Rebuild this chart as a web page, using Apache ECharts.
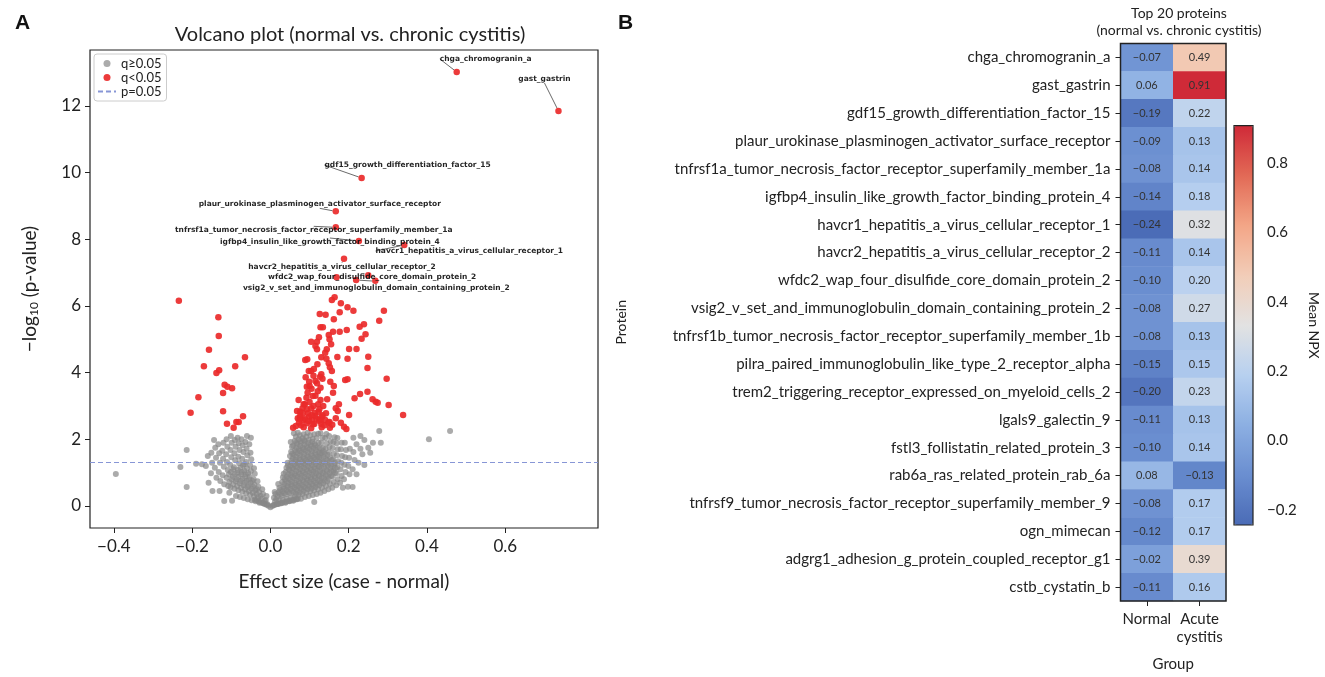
<!DOCTYPE html>
<html>
<head>
<meta charset="utf-8">
<script src="https://cdn.jsdelivr.net/npm/echarts@6/dist/echarts.min.js"></script>
<style>
  html, body { margin: 0; padding: 0; background: #fff; }
  #chart { width: 1325px; height: 677px; }
</style>
</head>
<body>
<div id="chart"></div>
<script>
// ---- panel A: volcano data (effect size, -log10 p) ----
const grayPts = [
  [0,-0.04],[0.005,0.0],[0.01,0.03],[-0.005,0.01],[-0.01,0.04],[0.015,0.05],[0.02,0.06],[-0.015,0.06],[0.025,0.08],[-0.02,0.09],
  [0.03,0.1],[0.035,0.12],[-0.025,0.11],[0.04,0.13],[0.045,0.15],[-0.03,0.14],[0.05,0.16],[0.055,0.18],[0.06,0.19],[-0.035,0.17],
  [0.065,0.2],[-0.04,0.19],[0.07,0.22],
  [0.008,0.03],[0.012,0.14],[0.009,0.25],[0.013,0.36],[0.011,0.42],
  [0.018,0.06],[0.022,0.17],[0.019,0.29],[0.021,0.41],[0.023,0.55],[0.02,0.66],
  [0.028,0.08],[0.032,0.19],[0.029,0.31],[0.031,0.44],[0.033,0.58],[0.03,0.72],[0.032,0.86],[0.034,0.97],
  [0.038,0.1],[0.042,0.22],[0.039,0.35],[0.041,0.48],[0.043,0.6],[0.04,0.74],[0.042,0.88],[0.039,1.02],[0.041,1.15],[0.044,1.3],
  [0.048,0.14],[0.052,0.26],[0.049,0.39],[0.051,0.52],[0.053,0.65],[0.05,0.79],[0.052,0.93],[0.049,1.07],[0.051,1.21],[0.054,1.36],[0.05,1.5],[0.053,1.63],[0.055,1.78],[0.052,1.92],
  [0.058,0.16],[0.062,0.29],[0.059,0.42],[0.061,0.55],[0.063,0.69],[0.06,0.83],[0.062,0.97],[0.059,1.11],[0.061,1.25],[0.064,1.39],[0.06,1.53],[0.063,1.67],[0.058,1.81],[0.062,1.95],[0.065,2.08],[0.06,2.18],
  [0.068,0.2],[0.072,0.33],[0.069,0.46],[0.071,0.6],[0.073,0.74],[0.07,0.88],[0.072,1.02],[0.069,1.16],[0.071,1.3],[0.074,1.44],[0.07,1.58],[0.073,1.72],[0.068,1.86],[0.072,2.0],[0.075,2.12],[0.07,2.2],
  [0.078,0.22],[0.082,0.36],[0.079,0.5],[0.081,0.63],[0.083,0.77],[0.08,0.91],[0.082,1.05],[0.079,1.19],[0.081,1.33],[0.084,1.47],[0.08,1.61],[0.083,1.75],[0.078,1.89],[0.082,2.03],[0.085,2.15],
  [0.088,0.27],[0.092,0.4],[0.089,0.54],[0.091,0.68],[0.093,0.82],[0.09,0.96],[0.092,1.1],[0.089,1.24],[0.091,1.38],[0.094,1.52],[0.09,1.66],[0.093,1.8],[0.088,1.94],[0.092,2.08],[0.095,2.2],
  [0.098,0.3],[0.102,0.44],[0.099,0.58],[0.101,0.72],[0.103,0.86],[0.1,1.0],[0.102,1.14],[0.099,1.28],[0.101,1.42],[0.104,1.56],[0.1,1.7],[0.103,1.84],[0.098,1.98],[0.102,2.12],
  [0.108,0.33],[0.112,0.47],[0.109,0.61],[0.111,0.75],[0.113,0.89],[0.11,1.03],[0.112,1.17],[0.109,1.31],[0.111,1.45],[0.114,1.59],[0.11,1.73],[0.113,1.87],[0.108,2.01],[0.112,2.15],
  [0.118,0.36],[0.122,0.5],[0.119,0.64],[0.121,0.78],[0.123,0.92],[0.12,1.06],[0.122,1.2],[0.119,1.34],[0.121,1.48],[0.124,1.62],[0.12,1.76],[0.123,1.9],[0.118,2.04],[0.122,2.17],
  [0.128,0.4],[0.132,0.55],[0.129,0.7],[0.131,0.85],[0.133,1.0],[0.13,1.15],[0.132,1.3],[0.129,1.45],[0.131,1.6],[0.134,1.75],[0.13,1.9],[0.133,2.05],[0.128,2.18],
  [0.138,0.45],[0.142,0.6],[0.139,0.76],[0.141,0.92],[0.143,1.08],[0.14,1.24],[0.142,1.4],[0.139,1.56],[0.141,1.72],[0.144,1.88],[0.14,2.04],[0.143,2.16],
  [0.148,0.5],[0.152,0.66],[0.149,0.82],[0.151,0.98],[0.153,1.14],[0.15,1.3],[0.152,1.46],[0.149,1.62],[0.151,1.78],[0.154,1.94],[0.15,2.1],
  [0.158,0.55],[0.162,0.72],[0.159,0.89],[0.161,1.06],[0.163,1.23],[0.16,1.4],[0.162,1.57],[0.159,1.74],[0.161,1.91],[0.164,2.06],
  [0.168,0.62],[0.172,0.8],[0.169,0.98],[0.171,1.16],[0.173,1.34],[0.17,1.52],[0.172,1.7],[0.169,1.88],[0.171,2.04],
  [0.178,0.7],[0.182,0.9],[0.179,1.1],[0.181,1.3],[0.183,1.5],[0.18,1.7],[0.182,1.9],
  [0.188,0.8],[0.192,1.02],[0.189,1.24],[0.191,1.46],[0.193,1.68],[0.19,1.9],
  [0.198,0.58],[0.202,0.95],[0.199,1.2],[0.201,1.45],[0.203,1.72],
  [0.21,1.1],[0.215,1.38],[0.212,1.62],[0.22,1.85],[0.225,1.3],[0.23,1.72],[0.235,1.55],[0.24,1.98],[0.25,1.75],[0.255,1.6],
  [0.262,1.9],[0.278,2.25],[0.282,1.9],[0.23,2.1],[0.212,2.05],[0.24,1.23],[0.22,0.95],[0.185,0.55],[0.21,0.57],[0.112,0.12],
  [0.405,2.0],[0.459,2.25],
  [0.015,0.2],[0.025,0.35],[0.025,0.48],[0.035,0.38],[0.035,0.52],[0.035,0.66],[0.037,0.8],[0.045,0.42],[0.045,0.56],[0.046,0.7],
  [0.045,0.83],[0.046,0.96],[0.047,1.1],[0.045,1.22],[0.055,0.45],[0.056,0.6],[0.055,0.73],[0.057,0.87],[0.055,1.0],[0.056,1.14],
  [0.055,1.29],[0.057,1.43],[0.056,1.57],[0.065,0.36],[0.066,0.5],[0.065,0.63],[0.067,0.77],[0.065,0.91],[0.066,1.05],[0.065,1.19],
  [0.067,1.33],[0.066,1.47],[0.065,1.61],[0.067,1.75],[0.066,1.9],[0.075,0.4],[0.076,0.55],[0.075,0.68],[0.077,0.83],[0.075,0.97],
  [0.076,1.11],[0.075,1.25],[0.077,1.38],[0.076,1.52],[0.075,1.66],[0.077,1.8],[0.076,1.95],[0.085,0.45],[0.086,0.58],[0.085,0.72],
  [0.087,0.87],[0.085,1.0],[0.086,1.15],[0.085,1.28],[0.087,1.42],[0.086,1.57],[0.085,1.7],[0.087,1.85],[0.086,1.98],[0.095,0.5],
  [0.096,0.63],[0.095,0.77],[0.097,0.9],[0.095,1.05],[0.096,1.19],[0.095,1.33],[0.097,1.47],[0.096,1.61],[0.095,1.75],[0.097,1.9],
  [0.105,0.52],[0.106,0.66],[0.105,0.8],[0.107,0.95],[0.105,1.08],[0.106,1.23],[0.105,1.37],[0.107,1.5],[0.106,1.65],[0.105,1.8],
  [0.107,1.93],[0.115,0.56],[0.116,0.7],[0.115,0.84],[0.117,0.98],[0.115,1.12],[0.116,1.26],[0.115,1.4],[0.117,1.54],[0.116,1.68],
  [0.115,1.82],[0.125,0.62],[0.126,0.76],[0.125,0.9],[0.127,1.04],[0.125,1.18],[0.126,1.32],[0.125,1.46],[0.127,1.6],[0.126,1.74],
  [0.135,0.68],[0.136,0.84],[0.135,1.0],[0.137,1.16],[0.135,1.32],[0.136,1.48],[0.135,1.64],[0.145,0.74],[0.146,0.9],[0.145,1.06],
  [0.147,1.22],[0.145,1.38],[0.146,1.54],[0.155,0.9],[0.156,1.06],[0.155,1.22],[0.157,1.38],[0.165,1.0],[0.166,1.15],[0.165,1.3],
  [-0.008,0.05],[-0.012,0.18],[-0.01,0.3],
  [-0.018,0.08],[-0.022,0.22],[-0.019,0.36],[-0.021,0.5],
  [-0.028,0.1],[-0.032,0.26],[-0.029,0.42],[-0.031,0.58],[-0.033,0.74],
  [-0.038,0.14],[-0.042,0.3],[-0.039,0.47],[-0.041,0.64],[-0.043,0.8],[-0.04,0.97],[-0.042,1.13],
  [-0.048,0.17],[-0.052,0.34],[-0.049,0.52],[-0.051,0.7],[-0.053,0.88],[-0.05,1.05],[-0.052,1.22],[-0.049,1.4],[-0.051,1.6],[-0.054,1.85],[-0.05,2.05],
  [-0.058,0.2],[-0.062,0.38],[-0.059,0.57],[-0.061,0.76],[-0.063,0.95],[-0.06,1.13],[-0.062,1.32],[-0.059,1.52],[-0.061,1.72],[-0.064,1.92],[-0.06,2.1],
  [-0.068,0.24],[-0.072,0.43],[-0.069,0.62],[-0.071,0.82],[-0.073,1.02],[-0.07,1.22],[-0.072,1.42],[-0.069,1.62],[-0.071,1.82],[-0.074,2.0],
  [-0.078,0.27],[-0.082,0.47],[-0.079,0.68],[-0.081,0.88],[-0.083,1.08],[-0.08,1.28],[-0.082,1.48],[-0.079,1.68],[-0.081,1.88],[-0.084,2.05],
  [-0.088,0.3],[-0.092,0.52],[-0.089,0.74],[-0.091,0.95],[-0.093,1.16],[-0.09,1.37],[-0.092,1.58],[-0.089,1.78],[-0.091,1.98],
  [-0.098,0.16],[-0.102,0.56],[-0.099,0.8],[-0.101,1.02],[-0.103,1.24],[-0.1,1.46],[-0.102,1.68],[-0.099,1.9],[-0.101,2.1],
  [-0.108,0.6],[-0.112,0.85],[-0.109,1.08],[-0.111,1.32],[-0.113,1.55],[-0.11,1.78],[-0.112,2.0],
  [-0.118,0.65],[-0.122,0.92],[-0.119,1.18],[-0.121,1.42],[-0.123,1.66],[-0.12,1.9],
  [-0.128,0.75],[-0.132,1.02],[-0.129,1.3],[-0.131,1.58],[-0.133,1.85],
  [-0.138,0.85],[-0.142,1.15],[-0.139,1.45],[-0.141,1.75],[-0.144,1.98],
  [-0.148,0.45],[-0.152,0.98],[-0.149,1.3],[-0.151,1.6],
  [-0.16,1.5],[-0.165,1.2],[-0.158,0.7],[-0.175,1.25],[-0.19,1.27],[-0.118,0.15],[-0.105,0.4],[-0.13,0.45],
  [-0.015,0.15],[-0.025,0.3],[-0.035,0.35],[-0.035,0.5],[-0.045,0.4],[-0.045,0.58],[-0.046,0.75],[-0.055,0.45],[-0.056,0.62],[-0.055,0.8],
  [-0.057,0.98],[-0.065,0.5],[-0.066,0.7],[-0.065,0.88],[-0.067,1.06],[-0.066,1.25],[-0.075,0.55],[-0.076,0.75],[-0.075,0.95],[-0.077,1.15],
  [-0.085,0.6],[-0.086,0.8],[-0.085,1.0],[-0.095,0.65],[-0.096,0.88],[-0.095,1.1],[-0.105,0.72],[-0.106,0.95],
  [-0.395,0.96],[-0.214,0.57],[-0.23,1.17],[-0.214,1.68]
];

const redPts = [
  [-0.234,6.16],[-0.133,5.66],[-0.132,5.10],[-0.157,4.69],[-0.065,4.46],[-0.170,4.19],[-0.090,4.19],[-0.131,4.07],[-0.138,3.99],
  [-0.117,3.64],[-0.110,3.58],[-0.098,3.53],[-0.121,3.39],[-0.184,3.26],[-0.204,2.80],[-0.121,2.84],[-0.070,2.69],[-0.111,2.47],
  [-0.087,2.52],[-0.081,2.52],[-0.094,2.35],
  [0.164,6.26],[0.157,6.18],[0.180,6.08],[0.197,5.96],[0.212,5.86],[0.290,5.86],[0.177,5.81],[0.126,5.76],[0.141,5.74],[0.278,5.56],
  [0.162,5.60],[0.128,5.36],[0.134,5.36],[0.239,5.45],[0.228,5.38],[0.243,5.15],[0.233,5.02],[0.160,5.23],[0.177,5.23],[0.195,5.28],
  [0.149,5.13],[0.151,5.00],[0.124,5.06],[0.119,4.93],[0.104,4.93],[0.115,4.80],[0.119,4.70],[0.144,4.70],[0.171,4.47],[0.201,4.71],
  [0.220,4.71],[0.130,4.46],[0.143,4.42],[0.197,4.42],[0.250,4.48],[0.089,4.38],[0.094,4.40],[0.149,4.28],[0.152,4.16],[0.248,4.14],
  [0.157,4.05],[0.111,4.11],[0.104,4.05],[0.110,3.91],[0.127,3.88],[0.133,3.82],[0.090,3.86],[0.191,3.78],[0.197,3.80],[0.297,3.82],
  [0.099,3.73],[0.119,3.68],[0.153,3.73],[0.162,3.60],[0.093,3.58],[0.105,3.52],[0.121,3.44],[0.248,3.43],[0.229,3.36],[0.115,3.31],
  [0.092,3.25],[0.128,3.18],[0.072,3.18],[0.215,3.23],[0.261,3.20],[0.269,3.13],[0.274,3.10],[0.302,3.03],[0.085,3.05],[0.167,2.93],
  [0.172,2.85],[0.104,2.93],[0.082,2.93],[0.068,2.85],[0.076,2.83],[0.096,2.78],[0.123,2.83],[0.142,2.78],[0.076,2.70],[0.099,2.68],
  [0.115,2.70],[0.132,2.68],[0.201,2.73],[0.339,2.73],[0.070,2.63],[0.085,2.58],[0.106,2.58],[0.124,2.56],[0.140,2.58],[0.167,2.63],
  [0.073,2.50],[0.093,2.48],[0.112,2.46],[0.130,2.46],[0.151,2.52],[0.058,2.35],[0.085,2.36],[0.104,2.33],[0.131,2.36],[0.152,2.35],
  [0.188,2.38],[0.194,2.31],
  [0.078,2.42],[0.088,2.62],[0.098,2.55],[0.108,2.45],[0.118,2.62],[0.128,2.58],[0.138,2.42],[0.083,2.78],[0.093,2.9],[0.113,2.8],
  [0.133,2.72],[0.148,2.5],[0.158,2.44],[0.088,3.05],[0.1,3.12],[0.11,3.0],[0.122,3.05],[0.135,3.0],[0.145,3.2],[0.095,3.4],
  [0.108,3.3],[0.128,3.55],[0.1,3.6],[0.115,3.75],[0.13,3.95],[0.098,4.05],[0.12,4.25],[0.14,4.6],[0.155,4.85],[0.175,3.05],
  [0.16,3.4],[0.18,2.5],[0.065,2.4],[0.075,2.62],[0.105,2.72],[0.125,2.9],
  [0.169,6.86],[0.250,6.92]
];

const topNames = [
  'chga_chromogranin_a', 'gast_gastrin', 'gdf15_growth_differentiation_factor_15',
  'plaur_urokinase_plasminogen_activator_surface_receptor',
  'tnfrsf1a_tumor_necrosis_factor_receptor_superfamily_member_1a',
  'igfbp4_insulin_like_growth_factor_binding_protein_4',
  'havcr1_hepatitis_a_virus_cellular_receptor_1',
  'havcr2_hepatitis_a_virus_cellular_receptor_2',
  'wfdc2_wap_four_disulfide_core_domain_protein_2',
  'vsig2_v_set_and_immunoglobulin_domain_containing_protein_2'
];
const topPts = [
  [0.476,13.02],[0.736,11.85],[0.233,9.84],[0.167,8.84],[0.167,8.36],
  [0.226,7.95],[0.342,7.83],[0.188,7.42],[0.219,6.78],[0.268,6.76]
];
// label offsets (px) from each labelled point
const topLabelShift = [
  [29,-13],[-14,-32],[46,-13],[-16,-7],[-22,3],[-29,1],[65,6],[-2,8],[16,-3],[1,7]
];

const pThreshold = 0.05;
const xTicks = [-0.4, -0.2, 0, 0.2, 0.4, 0.6];
const yTicks = [0, 2, 4, 6, 8, 10, 12];

// ---- panel B: heatmap data ----
const proteins = [
  'chga_chromogranin_a',
  'gast_gastrin',
  'gdf15_growth_differentiation_factor_15',
  'plaur_urokinase_plasminogen_activator_surface_receptor',
  'tnfrsf1a_tumor_necrosis_factor_receptor_superfamily_member_1a',
  'igfbp4_insulin_like_growth_factor_binding_protein_4',
  'havcr1_hepatitis_a_virus_cellular_receptor_1',
  'havcr2_hepatitis_a_virus_cellular_receptor_2',
  'wfdc2_wap_four_disulfide_core_domain_protein_2',
  'vsig2_v_set_and_immunoglobulin_domain_containing_protein_2',
  'tnfrsf1b_tumor_necrosis_factor_receptor_superfamily_member_1b',
  'pilra_paired_immunoglobulin_like_type_2_receptor_alpha',
  'trem2_triggering_receptor_expressed_on_myeloid_cells_2',
  'lgals9_galectin_9',
  'fstl3_follistatin_related_protein_3',
  'rab6a_ras_related_protein_rab_6a',
  'tnfrsf9_tumor_necrosis_factor_receptor_superfamily_member_9',
  'ogn_mimecan',
  'adgrg1_adhesion_g_protein_coupled_receptor_g1',
  'cstb_cystatin_b'
];
const normalNPX = [-0.07, 0.06, -0.19, -0.09, -0.08, -0.14, -0.24, -0.11, -0.10, -0.08,
                   -0.08, -0.15, -0.20, -0.11, -0.10, 0.08, -0.08, -0.12, -0.02, -0.11];
const acuteNPX = [0.49, 0.91, 0.22, 0.13, 0.14, 0.18, 0.32, 0.14, 0.20, 0.27,
                  0.13, 0.15, 0.23, 0.13, 0.14, -0.13, 0.17, 0.17, 0.39, 0.16];
const groups = ['Normal', 'Acute\ncystitis'];
const npxMin = -0.243, npxMax = 0.907;
const cbTicks = [-0.2, 0, 0.2, 0.4, 0.6, 0.8];
const npxColors = ['#4a6bb6', '#6a8ed0', '#8cafe2', '#b7d0f0', '#e2e2e2', '#f2cdb8', '#f3a687', '#e26a56', '#cf2a38'];

const FONT = 'Lato, "Open Sans", sans-serif';
const TXT = '#222';
const minus = s => String(s).replace('-', '\u2212');

const heatData = [];
proteins.forEach((p, i) => {
  heatData.push([0, i, normalNPX[i]]);
  heatData.push([1, i, acuteNPX[i]]);
});

const redData = redPts.map(p => p).concat(topPts.map((p, i) => ({
  name: topNames[i], value: p,
  label: { show: true }, labelLine: { show: true }
})));

const chart = echarts.init(document.getElementById('chart'), null, { renderer: 'canvas' });

chart.setOption({
  backgroundColor: '#fff',
  animation: false,
  textStyle: { fontFamily: FONT },
  title: [
    { text: 'Volcano plot (normal vs. chronic cystitis)', left: 345, top: 20, textAlign: 'center',
      textStyle: { fontFamily: FONT, fontSize: 20, fontWeight: 'normal', color: TXT } },
    { text: 'Top 20 proteins\n(normal vs. chronic cystitis)', left: 1174, top: 0, textAlign: 'center',
      textStyle: { fontFamily: FONT, fontSize: 14, fontWeight: 'normal', color: TXT, lineHeight: 17 } },
    { text: 'A', left: 10, top: 8, textStyle: { fontFamily: '"Liberation Sans", Arial', fontSize: 21, fontWeight: 'bold', color: '#111' } },
    { text: 'B', left: 613, top: 8, textStyle: { fontFamily: '"Liberation Sans", Arial', fontSize: 21, fontWeight: 'bold', color: '#111' } }
  ],
  legend: {
    left: 94, top: 54, orient: 'vertical',
    borderColor: '#ccc', borderWidth: 1, borderRadius: 3, padding: [3, 5, 3, 3],
    backgroundColor: '#fff', itemGap: 1, itemWidth: 18, itemHeight: 7,
    textStyle: { fontFamily: FONT, fontSize: 13, color: TXT },
    data: [
      { name: 'q\u22650.05', icon: 'circle' },
      { name: 'q<0.05', icon: 'circle' },
      { name: 'p=0.05', itemStyle: { opacity: 0 } }
    ]
  },
  grid: [
    { left: 90, top: 50, width: 508, height: 478, show: true, borderColor: '#222', borderWidth: 1.2, backgroundColor: 'transparent' },
    { left: 1120.5, top: 43.5, width: 105.5, height: 563, show: true, borderColor: '#222', borderWidth: 1.5, backgroundColor: 'transparent', z: 5 },
    { left: 1234, top: 125.7, width: 19, height: 399.3, show: true, borderColor: '#222', borderWidth: 1.2, backgroundColor: 'transparent', z: 10 }
  ],
  xAxis: [
    {
      gridIndex: 0, type: 'value', min: -0.461, max: 0.837,
      axisLine: { show: false, onZero: false },
      splitLine: { show: false },
      axisTick: { show: true, length: 5, lineStyle: { color: '#222' }, customValues: xTicks },
      axisLabel: { customValues: xTicks, fontSize: 17, color: TXT, margin: 10, fontFamily: FONT,
        formatter: v => minus(Number(v).toFixed(1)) },
      name: 'Effect size (case - normal)', nameLocation: 'middle', nameGap: 44,
      nameTextStyle: { fontSize: 19, color: TXT, fontFamily: FONT }
    },
    {
      gridIndex: 1, type: 'category', data: groups,
      axisLine: { show: false },
      axisTick: { show: true, alignWithLabel: true, length: 5, lineStyle: { color: '#222' } },
      axisLabel: { interval: 0, fontSize: 15, color: TXT, margin: 9, lineHeight: 18, fontFamily: FONT },
      name: 'Group', nameLocation: 'middle', nameGap: 56,
      nameTextStyle: { fontSize: 15, color: TXT, fontFamily: FONT }
    },
    { gridIndex: 2, type: 'value', min: 0, max: 1, show: false }
  ],
  yAxis: [
    {
      gridIndex: 0, type: 'value', min: -0.66, max: 13.68,
      axisLine: { show: false, onZero: false },
      splitLine: { show: false },
      axisTick: { show: true, length: 5, lineStyle: { color: '#222' }, customValues: yTicks },
      axisLabel: { customValues: yTicks, fontSize: 17, color: TXT, margin: 9, fontFamily: FONT },
      name: '\u2212log{sub|10} (p-value)', nameLocation: 'middle', nameGap: 50,
      nameTextStyle: { fontSize: 19, color: TXT, fontFamily: FONT,
        rich: { sub: { fontSize: 12, color: TXT, fontFamily: FONT, padding: [9, 0, 0, 0] } } }
    },
    {
      gridIndex: 1, type: 'category', data: proteins, inverse: true,
      axisLine: { show: false },
      axisTick: { show: true, alignWithLabel: true, length: 5, lineStyle: { color: '#222' } },
      axisLabel: { interval: 0, fontSize: 15, color: TXT, margin: 10, fontFamily: FONT },
      name: 'Protein', nameLocation: 'middle', nameGap: 492,
      nameTextStyle: { fontSize: 14, color: TXT, fontFamily: FONT }
    },
    {
      gridIndex: 2, type: 'value', position: 'right', min: npxMin, max: npxMax,
      axisLine: { show: false },
      splitLine: { show: false },
      axisTick: { show: true, length: 6, lineStyle: { color: '#222' }, customValues: cbTicks },
      axisLabel: { customValues: cbTicks, fontSize: 15, color: TXT, margin: 14, fontFamily: FONT,
        formatter: v => minus(Number(v).toFixed(1)) },
      name: 'Mean NPX', nameLocation: 'middle', nameRotate: -90, nameGap: 54,
      nameTextStyle: { fontSize: 14, color: TXT, fontFamily: FONT }
    }
  ],
  visualMap: {
    type: 'continuous', seriesIndex: 3, min: npxMin, max: npxMax,
    orient: 'vertical', left: 1234, top: 125.7, itemWidth: 19, itemHeight: 399.3,
    padding: 0, calculable: false, text: null, showLabel: false,
    textStyle: { color: 'transparent' },
    inRange: { color: npxColors }
  },
  series: [
    {
      name: 'q\u22650.05', type: 'scatter', xAxisIndex: 0, yAxisIndex: 0,
      symbolSize: 6, data: grayPts,
      itemStyle: { color: '#888888', opacity: 0.7 }
    },
    {
      name: 'q<0.05', type: 'scatter', xAxisIndex: 0, yAxisIndex: 0,
      symbolSize: 6.5, data: redData,
      itemStyle: { color: '#ea2a2a', opacity: 0.92 },
      label: {
        show: false, position: 'inside', formatter: '{b}',
        fontFamily: '"DejaVu Sans", sans-serif', fontWeight: 'bold', fontSize: 7.5, color: '#111'
      },
      labelLine: { show: false, lineStyle: { color: '#444', width: 0.8 } },
      labelLayout: function (p) {
        const k = p.dataIndex - redPts.length;
        if (k < 0) return {};
        return { dx: topLabelShift[k][0], dy: topLabelShift[k][1] };
      }
    },
    {
      name: 'p=0.05', type: 'line', xAxisIndex: 0, yAxisIndex: 0, data: [], symbol: 'none',
      lineStyle: { type: [5, 3], color: '#8796d6', width: 1.2 },
      itemStyle: { color: '#8796d6' },
      markLine: {
        silent: true, symbol: 'none', label: { show: false },
        lineStyle: { type: [5, 3], color: '#8796d6', width: 1.2 },
        data: [{ yAxis: -Math.log10(pThreshold) }]
      }
    },
    {
      name: 'Mean NPX', type: 'heatmap', xAxisIndex: 1, yAxisIndex: 1,
      data: heatData,
      label: { show: true, fontSize: 11, color: '#333', fontFamily: FONT,
        formatter: p => minus(p.value[2].toFixed(2)) },
      emphasis: { disabled: true }
    }
  ]
});
</script>
</body>
</html>
